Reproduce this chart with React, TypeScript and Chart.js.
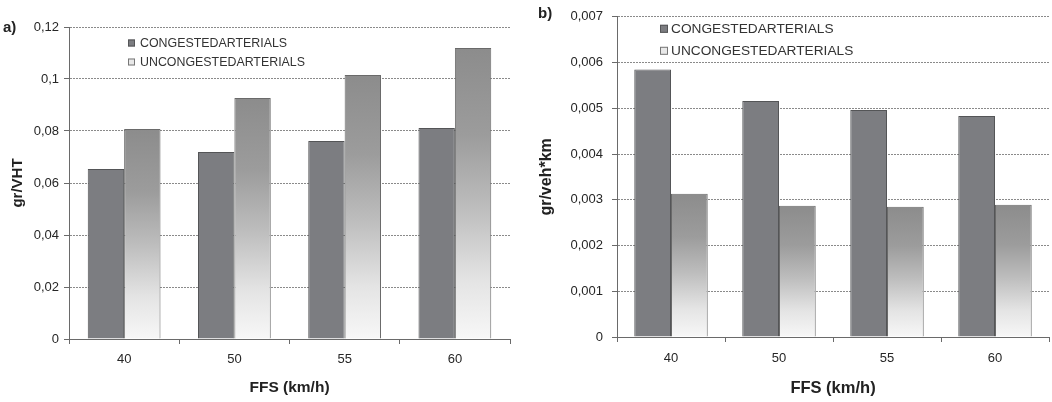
import { useEffect, useRef } from 'react';
import { Chart, registerables } from 'chart.js';

Chart.register(...registerables);

const categories = ['40', '50', '55', '60'];
const seriesLabels = ['CONGESTEDARTERIALS', 'UNCONGESTEDARTERIALS'];
const congestedA = [0.0654, 0.0719, 0.0762, 0.0812];
const uncongestedA = [0.0808, 0.0927, 0.1015, 0.1119];
const congestedB = [0.00585, 0.00516, 0.00496, 0.00483];
const uncongestedB = [0.00313, 0.00287, 0.00285, 0.00289];
const yTitleA = 'gr/VHT';
const yTitleB = 'gr/veh*km';
const xTitle = 'FFS (km/h)';

const FONT = '"Liberation Sans", Arial, Helvetica, sans-serif';
const DARK = '#7c7d81';
const DARK_BORDER = '#545557';
const LIGHT_BORDER = '#6a6a6a';

const gradientFill = (ctx: any) => {
  if (ctx.type !== 'data') return '#ececec';
  const chart = ctx.chart;
  const y = chart.scales && chart.scales.y;
  if (!y) return '#bbbbbb';
  const top = y.getPixelForValue(ctx.raw);
  const bottom = y.getPixelForValue(0);
  if (!isFinite(top) || !isFinite(bottom) || top === bottom) return '#bbbbbb';
  const g = chart.ctx.createLinearGradient(0, top, 0, bottom);
  g.addColorStop(0, '#8c8c8c');
  g.addColorStop(0.3, '#9c9c9c');
  g.addColorStop(0.55, '#bdbdbd');
  g.addColorStop(0.8, '#e4e4e4');
  g.addColorStop(1, '#f7f7f7');
  return g;
};

const insideLegend = {
  id: 'insideLegend',
  afterDraw(chart: any, _args: any, opts: any) {
    const { ctx, chartArea } = chart;
    ctx.save();
    ctx.font = `${opts.fontSize}px ${FONT}`;
    ctx.textBaseline = 'middle';
    ctx.textAlign = 'left';
    const fills = [DARK, '#e8e8e8'];
    const strokes = [DARK_BORDER, '#777777'];
    chart.data.datasets.forEach((ds: any, i: number) => {
      const cy = chartArea.top + opts.dy + i * opts.gap;
      const bx = chartArea.left + opts.dx;
      const b = opts.box;
      ctx.fillStyle = fills[i];
      ctx.fillRect(bx, cy - b / 2, b, b);
      ctx.strokeStyle = strokes[i];
      ctx.lineWidth = 1;
      ctx.strokeRect(bx + 0.5, cy - b / 2 + 0.5, b - 1, b - 1);
      ctx.fillStyle = '#333333';
      ctx.fillText(ds.label, bx + b + opts.textGap, cy + 0.5);
    });
    ctx.restore();
  },
};

const fmt = (v: any) => {
  const n = Number(v);
  if (n === 0) return '0';
  return String(parseFloat(n.toFixed(5))).replace('.', ',');
};

type Params = {
  width: number;
  height: number;
  congested: number[];
  uncongested: number[];
  max: number;
  step: number;
  yTitle: string;
  yAxisWidth: number;
  xAxisHeight: number;
  padTop: number;
  padRight: number;
  tickFont: number;
  yTickPad: number;
  xTickPad: number;
  yTitleFont: number;
  yTitlePad: number;
  xTitleFont: number;
  xTitlePad: number;
  catPct: number;
  legend: { dx: number; dy: number; gap: number; box: number; fontSize: number; textGap: number };
};

function BarPanel({ p }: { p: Params }) {
  const ref = useRef<HTMLCanvasElement | null>(null);
  useEffect(() => {
    if (!ref.current) return;
    const chart = new Chart(ref.current, {
      type: 'bar',
      data: {
        labels: categories,
        datasets: [
          {
            label: seriesLabels[0],
            data: p.congested,
            backgroundColor: DARK,
            borderColor: DARK_BORDER,
            borderWidth: 1,
            categoryPercentage: p.catPct,
            barPercentage: 1,
          },
          {
            label: seriesLabels[1],
            data: p.uncongested,
            backgroundColor: gradientFill,
            borderColor: LIGHT_BORDER,
            borderWidth: 1,
            categoryPercentage: p.catPct,
            barPercentage: 1,
          },
        ],
      },
      options: {
        responsive: false,
        animation: false,
        devicePixelRatio: 1,
        layout: { padding: { top: p.padTop, right: p.padRight, left: 0, bottom: 0 } },
        plugins: {
          legend: { display: false },
          tooltip: { enabled: false },
          insideLegend: p.legend,
        } as any,
        scales: {
          x: {
            grid: {
              display: true,
              drawOnChartArea: false,
              drawTicks: true,
              tickLength: 5,
              tickColor: '#6a6a6a',
              offset: true,
            },
            border: { display: true, color: '#6a6a6a', width: 1 },
            ticks: {
              color: '#262626',
              font: { family: FONT, size: p.tickFont },
              padding: p.xTickPad,
            },
            title: {
              display: true,
              text: xTitle,
              color: '#222222',
              font: { family: FONT, size: p.xTitleFont, weight: 'bold' },
              padding: { top: 0, bottom: p.xTitlePad },
            },
            afterFit: (s: any) => {
              s.height = p.xAxisHeight;
            },
          },
          y: {
            min: 0,
            max: p.max,
            grid: {
              color: '#8a8a8a',
              lineWidth: 1,
              drawTicks: true,
              tickLength: 5,
              tickColor: '#6a6a6a',
            },
            border: { display: true, color: '#6a6a6a', width: 1, dash: [2, 1] },
            ticks: {
              stepSize: p.step,
              color: '#262626',
              font: { family: FONT, size: p.tickFont },
              padding: p.yTickPad,
              callback: (v: any) => fmt(v),
            },
            title: {
              display: true,
              text: p.yTitle,
              color: '#222222',
              font: { family: FONT, size: p.yTitleFont, weight: 'bold' },
              padding: { top: p.yTitlePad, bottom: 0 },
            },
            afterFit: (s: any) => {
              s.width = p.yAxisWidth;
            },
          },
        },
      } as any,
      plugins: [insideLegend as any],
    });
    return () => chart.destroy();
  }, [p]);
  return <canvas ref={ref} width={p.width} height={p.height} style={{ display: 'block' }} />;
}

const paramsA: Params = {
  width: 515,
  height: 402,
  congested: congestedA,
  uncongested: uncongestedA,
  max: 0.12,
  step: 0.02,
  yTitle: yTitleA,
  yAxisWidth: 69,
  xAxisHeight: 63,
  padTop: 27,
  padRight: 5,
  tickFont: 13,
  yTickPad: 5,
  xTickPad: 8,
  yTitleFont: 15,
  yTitlePad: 9,
  xTitleFont: 15.5,
  xTitlePad: 5,
  catPct: 0.66,
  legend: { dx: 59, dy: 16, gap: 19, box: 7, fontSize: 12.4, textGap: 5 },
};

const paramsB: Params = {
  width: 532,
  height: 402,
  congested: congestedB,
  uncongested: uncongestedB,
  max: 0.007,
  step: 0.001,
  yTitle: yTitleB,
  yAxisWidth: 97,
  xAxisHeight: 65,
  padTop: 13,
  padRight: 3,
  tickFont: 13,
  yTickPad: 9,
  xTickPad: 9,
  yTitleFont: 16,
  yTitlePad: 17,
  xTitleFont: 16.5,
  xTitlePad: 4,
  catPct: 0.68,
  legend: { dx: 43, dy: 12, gap: 22, box: 8, fontSize: 13.7, textGap: 3 },
};

export default function App() {
  const labelStyle: any = {
    position: 'absolute',
    fontFamily: FONT,
    fontWeight: 'bold',
    fontSize: 15,
    color: '#222222',
    lineHeight: '16px',
  };
  return (
    <div style={{ position: 'fixed', left: 0, top: 0, width: 1052, height: 402, background: '#ffffff', overflow: 'hidden' }}>
      <div style={{ position: 'absolute', left: 0, top: 0 }}>
        <BarPanel p={paramsA} />
      </div>
      <div style={{ position: 'absolute', left: 520, top: 0 }}>
        <BarPanel p={paramsB} />
      </div>
      <div style={{ ...labelStyle, left: 3, top: 19 }}>a)</div>
      <div style={{ ...labelStyle, left: 538, top: 5 }}>b)</div>
    </div>
  );
}
